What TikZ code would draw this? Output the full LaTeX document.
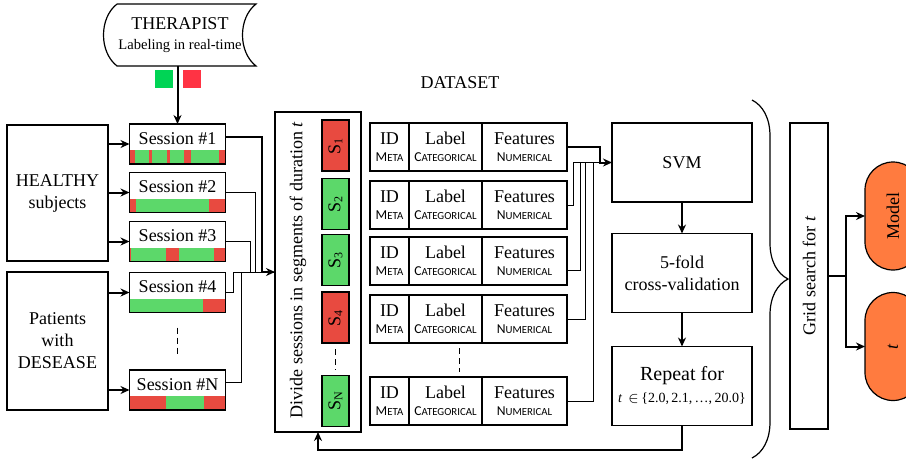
\documentclass[tikz,border=0pt]{standalone}
\usepackage{fontspec}
\setmainfont{Liberation Serif}
\newfontfamily\capsfont{Carlito}
\usepackage{tikz}
\usetikzlibrary{positioning,arrows.meta,decorations.pathreplacing}

\definecolor{segred}{HTML}{E84A40}
\definecolor{segreen}{HTML}{5CD86A}
\definecolor{thgreen}{HTML}{00D455}
\definecolor{thred}{HTML}{FF3344}
\definecolor{pillorange}{HTML}{FF7B3F}

\newcommand{\fsc}[2]{{\capsfont\fontsize{6.8}{7}\selectfont #1\fontsize{5.4}{7}\selectfont #2}}
\newcommand{\sessbar}[2]{%
    \fill[segreen] (129.5,#1) rectangle (225.5,#1-14);
    \foreach \a/\b in {#2} \fill[segred] (\a,#1) rectangle (\b,#1-14);
}

\begin{document}
\begin{tikzpicture}[x=0.5pt,y=-0.5pt,
    txt/.style={font=\fontsize{9}{11}\selectfont,align=center,inner sep=0pt},
    box/.style={txt,draw,line width=0.6pt,outer sep=0pt},
    sess/.style={box,minimum width=48pt,text height=10pt,text depth=10pt},
    cell/.style={box,minimum height=24pt,font=\fontsize{9}{8.5}\selectfont},
    seg/.style={box,rotate=90,minimum width=25.5pt,minimum height=13.5pt},
    stepbox/.style={box,minimum width=70pt,minimum height=39.5pt},
    pill/.style={box,rotate=90,fill=pillorange,rounded corners=14pt,minimum width=54pt,minimum height=28pt},
    wire/.style={line width=0.5pt},
    thickarr/.style={line width=1pt,-{Stealth[length=4.5pt,width=4pt]}},
    dashes/.style={line width=0.6pt,dash pattern=on 3pt off 2pt}]
    \useasboundingbox (0,0) rectangle (906,462);

    % therapist
    \draw[line width=0.6pt] (117,4) -- (256,4) .. controls (238,18) and (238,52) .. (256,66)
        -- (117,66) .. controls (99,52) and (99,18) .. (117,4);
    \node[txt] (ther) at (180,35) {THERAPIST\\[-1pt]{\fontsize{7.3}{9}\selectfont Labeling in real-time}};
    \coordinate (therbot) at (177.5,66);
    \fill[thgreen] (155,70) rectangle (173,88);
    \fill[thred] (183,70) rectangle (201,88);

    % subjects
    \node[box,minimum width=50.5pt,minimum height=68pt] (healthy) at (57.5,193) {HEALTHY\\subjects};
    \node[box,minimum width=50.5pt,minimum height=69pt] (patients) at (57.5,341) {Patients\\with\\DESEASE};

    % sessions
    \sessbar{164}{129.5/135,149/152,167/170,184/191,219/225.5}
    \sessbar{212.5}{129.5/136,209/225.5}
    \sessbar{261.5}{129.5/131,166/179,214/225.5}
    \sessbar{312.5}{203/225.5}
    \sessbar{410}{129.5/166,204/225.5}
    \node[sess] (s1) at (177.5,144) {Session \#1};
    \node[sess] (s2) at (177.5,192.5) {Session \#2};
    \node[sess] (s3) at (177.5,241.5) {Session \#3};
    \node[sess] (s4) at (177.5,292.5) {Session \#4};
    \node[sess] (sN) at (177.5,390) {Session \#N};
    \draw[dashes] ([yshift=-7.5pt]s4.south) -- ([yshift=7.5pt]sN.north);

    \draw[thickarr] (therbot) -- (s1.north);
    \foreach \s in {s1,s2,s3} \draw[thickarr] (healthy.east |- \s.west) -- (\s.west);
    \foreach \s in {s4,sN} \draw[thickarr] (patients.east |- \s.west) -- (\s.west);

    % segments
    \node[box,minimum width=43pt,minimum height=160pt] (divide) at (318,272) {};
    \node[txt,rotate=90] (divtxt) at (298,270) {Divide sessions in segments of duration \textit{t}};
    \foreach \n/\y/\c in {1/145.5/segred,2/204/segreen,3/260/segreen,4/317.5/segred,N/401/segreen}
        \node[seg,fill=\c] (seg\n) at (335.5,\y) {S\textsubscript{\n}};
    \draw[dashes] ([yshift=-3pt]seg4.west) -- ([yshift=3pt]segN.east);

    \draw[wire] (s2.east) -- ++(14.75pt,0) |- (divide.west);
    \draw[wire] (s3.east) -- ++(12.25pt,0) |- (divide.west);
    \draw[wire] (s4.east) -- ++(3.75pt,0) |- (divide.west);
    \draw[wire] ([yshift=4pt]sN.east) -- ++(7.75pt,0) |- (divide.west);
    \draw[thickarr] ([yshift=3.5pt]s1.east) -- ++(18.25pt,0) |- (divide.west);

    % dataset
    \node[txt] (dataset) at (460,83) {DATASET};
    \foreach \n/\y in {1/147,2/205,3/261,4/319,N/401}{
        \node[cell,minimum width=19.5pt] (id\n) at (389.5,\y) {ID\\\fsc{M}{ETA}};
        \node[cell,minimum width=36.5pt,right=0pt of id\n] (lab\n) {Label\\\fsc{C}{ATEGORICAL}};
        \node[cell,minimum width=42.5pt,right=0pt of lab\n] (feat\n) {Features\\\fsc{N}{UMERICAL}};
    }
    \draw[dashes] ([xshift=7pt,yshift=-2.5pt]lab4.south) -- ([xshift=7pt,yshift=2.5pt]labN.north);

    % classifier
    \node[stepbox] (svm) at (682,162.5) {SVM};
    \node[stepbox] (fold) at (682,273) {5-fold\\cross-validation};
    \node[stepbox] (rep) at (682,386) {{\fontsize{10}{12}\selectfont Repeat for}\\
        {\fontsize{7}{9}\selectfont\textit{t} \,$\in$\,\{2.0,\,2.1,\,…,\,20.0\}}};

    \draw[wire] (feat2.east) -- ++(3pt,0) |- (svm.west);
    \draw[wire] ([yshift=-4.5pt]feat3.east) -- ++(6.5pt,0) |- (svm.west);
    \draw[wire] (feat4.east) -- ++(9pt,0) |- (svm.west);
    \draw[wire] (featN.east) -- ++(13pt,0) |- (svm.west);
    \draw[thickarr] (feat1.east) -- ++(16.5pt,0) |- (svm.west);
    \draw[thickarr] (svm) -- (fold);
    \draw[thickarr] (fold) -- (rep);
    \draw[thickarr] (rep.south) -- ++(0,-12pt) -| (divide.south);

    % grid search
    \draw[line width=0.6pt,decorate,decoration={brace,amplitude=18pt}] (752,100) -- (752,458);
    \node[box,rotate=90,minimum width=153pt,minimum height=19pt] (grid) at (809,276) {Grid search for \textit{t}};
    \node[pill] (model) at (893,216) {Model};
    \node[pill] (tout) at (893,346.5) {\textit{t}};
    \draw[thickarr] (grid.south) -- ++(9pt,0) |- (model.north);
    \draw[thickarr] (grid.south) -- ++(9pt,0) |- (tout.north);
\end{tikzpicture}
\end{document}
